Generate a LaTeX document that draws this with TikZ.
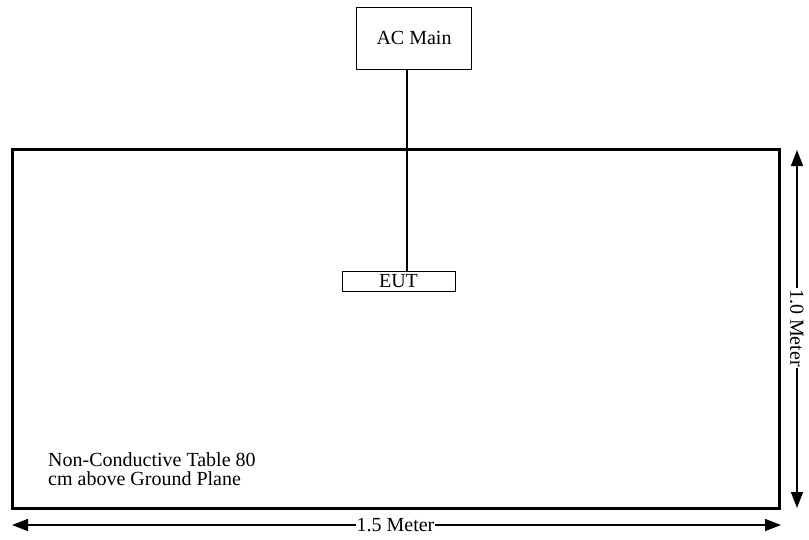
\documentclass[tikz,border=0pt]{standalone}
\usepackage{fontspec}
\setmainfont{Liberation Serif}
\usetikzlibrary{arrows.meta}
\begin{document}
\begin{tikzpicture}[x=1pt,y=-1pt,
  box/.style={draw,line width=1pt,inner sep=0pt,font=\fontsize{20}{19}\selectfont},
  dim/.style={line width=1.5pt,{Triangle[length=16pt,width=12pt]}-{Triangle[length=16pt,width=12pt]}},
  dimlabel/.style={fill=white,inner sep=1pt,font=\fontsize{20}{19}\selectfont}]
\useasboundingbox (0,0) rectangle (809,539);
\node[box,minimum width=115pt,minimum height=62pt] (ac) at (414,38) {AC Main};
\node[box,minimum width=113pt,minimum height=20pt] (eut) at (398.5,281) {EUT};
\draw[line width=3pt] (12,149) rectangle (779,508);
\draw[line width=2.5pt] (ac.south -| 407,0) -- (eut.north -| 407,0);
\node[anchor=north west,align=left,inner sep=0pt,font=\fontsize{20}{19}\selectfont] (lbl) at (48,452) {Non-Conductive Table 80\\cm above Ground Plane};
\coordinate (a1) at (12,525);
\coordinate (a2) at (781,525);
\draw[dim] (a1) -- (a2);
\node[dimlabel] (w) at (395.5,525) {1.5 Meter};
\coordinate (b1) at (797,150);
\coordinate (b2) at (797,508);
\draw[dim] (b1) -- (b2);
\node[dimlabel,rotate=-90] (h) at (797,328) {1.0 Meter};
\end{tikzpicture}
\end{document}
